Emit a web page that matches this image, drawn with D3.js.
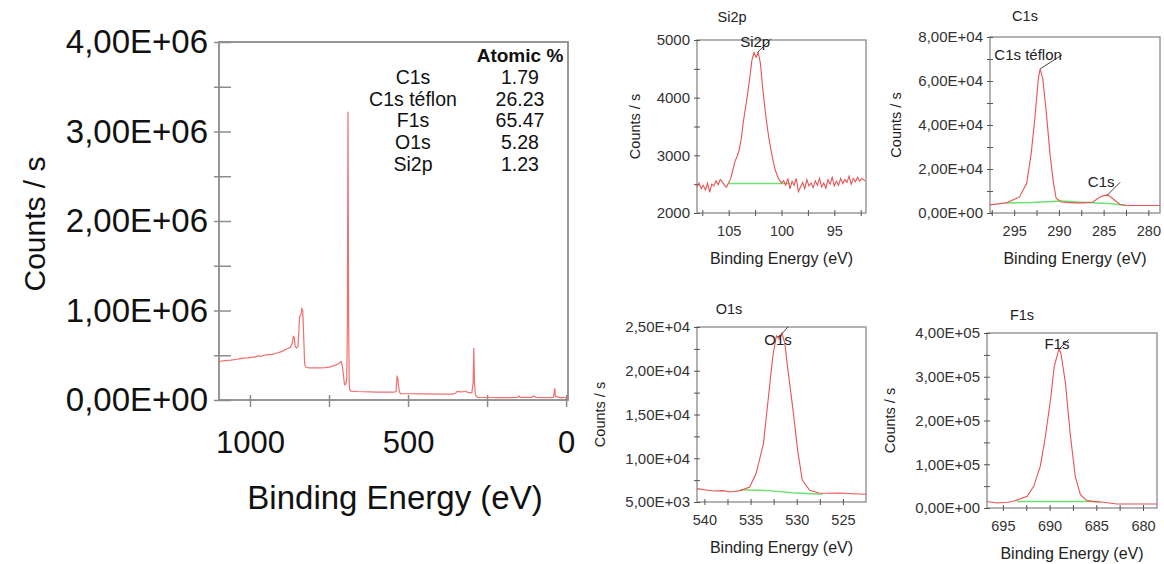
<!DOCTYPE html>
<html>
<head>
<meta charset="utf-8">
<script src="https://cdn.jsdelivr.net/npm/d3@7"></script>
<style>
  body { margin: 0; background: #fff; }
  svg { display: block; font-family: "Liberation Sans", Arial, sans-serif; }
</style>
</head>
<body>
<div id="chart"></div>
<script>
// survey spectrum (binding energy eV, counts/s)
const surveyEnergy = [1098,1080,1060,1040,1030,1020,1005,995,985,975,965,950,930,915,900,890,880,872,866,863,860,857,853,848,843,839,836,833,830,827,824,815,800,780,760,745,730,720,712,708,705,702,700,697,694,692,690,688,686,684,680,660,640,620,600,580,560,545,538,535,532,530,527,524,500,450,400,360,350,345,335,325,318,313,305,298,294,292,290,287,284,280,250,200,155,150,145,110,105,100,95,60,40,36,34,30,25,15,10,5,0,-6];
const surveyCounts = [430000,440000,445000,455000,462000,468000,470000,478000,480000,492000,488000,505000,510000,525000,540000,560000,575000,590000,640000,710000,700000,600000,580000,600000,930000,950000,1020000,1000000,700000,400000,370000,360000,358000,360000,362000,370000,390000,405000,430000,390000,300000,200000,170000,180000,230000,800000,3220000,900000,160000,110000,100000,95000,92000,90000,88000,88000,87000,87000,95000,260000,240000,150000,90000,72000,70000,68000,66000,66000,75000,95000,90000,92000,100000,88000,80000,85000,200000,580000,200000,60000,40000,30000,28000,27000,28000,45000,30000,30000,40000,42000,30000,26000,28000,130000,40000,35000,35000,25000,30000,28000,20000,15000];

const atomicNames = ["C1s", "C1s téflon", "F1s", "O1s", "Si2p"];
const atomicValues = ["1.79", "26.23", "65.47", "5.28", "1.23"];

// high resolution regions
const si2pEnergy = [108.0,107.8,107.6,107.4,107.2,107.0,106.8,106.6,106.4,106.2,106.0,105.8,105.6,105.4,105.2,105.0,104.8,104.6,104.4,104.2,104.0,103.8,103.6,103.3,103.0,102.8,102.6,102.4,102.2,102.0,101.8,101.5,101.2,100.9,100.6,100.3,100.0,99.8,99.6,99.4,99.2,99.0,98.8,98.6,98.4,98.2,98.0,97.8,97.6,97.4,97.2,97.0,96.8,96.6,96.4,96.2,96.0,95.8,95.6,95.4,95.2,95.0,94.8,94.6,94.4,94.2,94.0,93.8,93.6,93.4,93.2,93.0,92.8,92.6,92.4,92.1];
const si2pCounts = [2450,2520,2420,2480,2400,2520,2360,2500,2470,2560,2490,2580,2540,2480,2450,2530,2600,2750,2900,2980,3100,3300,3600,3950,4350,4650,4780,4700,4780,4600,4200,3700,3300,3000,2750,2600,2520,2560,2480,2600,2420,2550,2480,2600,2370,2450,2530,2420,2580,2470,2520,2440,2560,2480,2600,2450,2520,2430,2580,2500,2620,2470,2550,2480,2600,2510,2580,2530,2640,2500,2600,2540,2620,2550,2600,2560];
const si2pBgEnergy = [105.0, 99.2];
const si2pBgCounts = [2510, 2510];

const c1sEnergy = [297.7,297.5,295.9,294.4,293.6,293.1,292.7,292.3,292.1,291.8,291.4,291.0,290.6,290.3,289.7,288.4,287.3,286.2,285.4,284.9,284.5,284.0,283.2,282.5,280.5,278.7];
const c1sCounts = [3700,3800,4600,7300,13500,27000,42500,61000,65500,61000,45500,27000,13500,6600,5000,4600,4600,5000,7300,8000,8100,6600,4000,3400,3400,3400];
const c1sBgEnergy = [295.9, 293.0, 289.7, 287.5, 285.8, 284.3, 282.5];
const c1sBgCounts = [4600, 4800, 5400, 4900, 4600, 4300, 3400];

const o1sEnergy = [540.8,540.0,539.0,538.0,537.2,536.1,535.1,534.4,533.6,533.1,532.6,532.2,531.9,531.6,531.3,531.0,530.4,529.9,529.4,528.6,527.6,526.5,525.4,524.0,522.5];
const o1sCounts = [6530,6400,6260,6300,6150,6300,6720,8250,11700,16650,21600,24000,23600,24300,23200,20500,15500,10900,7500,6340,6030,6000,6030,5950,5880];
const o1sBgEnergy = [536.1, 533.0, 530.5, 527.2];
const o1sBgCounts = [6400, 6300, 6050, 5880];

const f1sEnergy = [696.7,695.6,694.5,693.9,692.4,691.7,691.0,690.5,689.9,689.5,689.0,688.8,688.3,687.8,687.25,686.7,686.0,685.0,684.2,682.8,680.5,678.5];
const f1sCounts = [15000,11400,13000,15000,26700,49500,95000,156000,248000,324000,363000,355000,286000,171000,72000,30500,16800,14000,13000,9100,9000,9100];
const f1sBgEnergy = [693.5, 684.6];
const f1sBgCounts = [15000, 15000];

const W = 1164, H = 564;
const svg = d3.select("#chart").append("svg").attr("width", W).attr("height", H);

// "8,00E+04" style labels
function fmtE(v) {
  if (v === 0) return "0,00E+00";
  const e = Math.floor(Math.log10(v) + 1e-9);
  const m = v / Math.pow(10, e);
  return m.toFixed(2).replace(".", ",") + "E+" + String(e).padStart(2, "0");
}
const isMultiple = (v, step) => Math.abs(v / step - Math.round(v / step)) < 1e-6;
const pts = (xs, ys) => xs.map((d, i) => [d, ys[i]]);

/* ---------- survey ---------- */
const main = {left: 219, right: 568, top: 42, bottom: 400};
const xMain = d3.scaleLinear().domain([1098, -6]).range([main.left, main.right]);
const yMain = d3.scaleLinear().domain([0, 4e6]).range([main.bottom, main.top]);

svg.append("rect")
  .attr("x", main.left).attr("y", main.top)
  .attr("width", main.right - main.left).attr("height", main.bottom - main.top)
  .attr("fill", "none").attr("stroke", "#8c8c8c").attr("stroke-width", 1.8);

const yAxisMain = svg.append("g")
  .attr("transform", `translate(${main.left},0)`)
  .call(d3.axisLeft(yMain).tickValues(d3.range(0, 4e6 + 1, 5e5))
    .tickFormat(d => isMultiple(d, 1e6) ? fmtE(d) : "").tickSize(5).tickPadding(6));
yAxisMain.select(".domain").remove();
yAxisMain.selectAll(".tick line").attr("x1", 12).attr("x2", -5).attr("stroke", "#8c8c8c").attr("stroke-width", 1.5);
yAxisMain.selectAll("text").attr("font-size", 33).attr("fill", "#111").attr("font-family", "Liberation Sans, Arial, sans-serif");

const xAxisMain = svg.append("g")
  .attr("transform", `translate(0,${main.bottom})`)
  .call(d3.axisBottom(xMain).tickValues([1000, 750, 500, 250, 0])
    .tickFormat(d => isMultiple(d, 500) ? d : "").tickSize(7).tickPadding(24));
xAxisMain.select(".domain").remove();
xAxisMain.selectAll(".tick line").attr("y1", -5).attr("stroke", "#8c8c8c").attr("stroke-width", 1.5);
xAxisMain.selectAll("text").attr("font-size", 31).attr("fill", "#111").attr("font-family", "Liberation Sans, Arial, sans-serif");

svg.append("path")
  .datum(pts(surveyEnergy, surveyCounts))
  .attr("fill", "none").attr("stroke", "#f07070").attr("stroke-width", 1.2)
  .attr("d", d3.line().x(d => xMain(d[0])).y(d => yMain(d[1])));

svg.append("text")
  .attr("transform", "translate(45,224) rotate(-90)")
  .attr("text-anchor", "middle").attr("font-size", 30).attr("fill", "#111")
  .text("Counts / s");
svg.append("text")
  .attr("x", 395).attr("y", 509)
  .attr("text-anchor", "middle").attr("font-size", 33).attr("fill", "#111")
  .text("Binding Energy (eV)");

// atomic % table
svg.append("text").attr("x", 520).attr("y", 62).attr("text-anchor", "middle")
  .attr("font-size", 19).attr("font-weight", "bold").attr("fill", "#111").text("Atomic %");
atomicNames.forEach((n, i) => {
  const yy = 84 + i * 21.7;
  svg.append("text").attr("x", 413).attr("y", yy).attr("text-anchor", "middle")
    .attr("font-size", 19.5).attr("fill", "#111").text(n);
  svg.append("text").attr("x", 520).attr("y", yy).attr("text-anchor", "middle")
    .attr("font-size", 19.5).attr("fill", "#111").text(atomicValues[i]);
});

/* ---------- small panels ---------- */
function drawPanel(p) {
  const x = d3.scaleLinear().domain(p.xDomain).range([p.left, p.right]);
  const y = d3.scaleLinear().domain(p.yDomain).range([p.bottom, p.top]);
  const g = svg.append("g");

  g.append("rect")
    .attr("x", p.left).attr("y", p.top)
    .attr("width", p.right - p.left).attr("height", p.bottom - p.top)
    .attr("fill", "none").attr("stroke", "#8a8a8a").attr("stroke-width", 1.3);

  const ya = g.append("g").attr("transform", `translate(${p.left},0)`)
    .call(d3.axisLeft(y).tickValues(p.yTicks)
      .tickFormat(d => isMultiple(d, p.yLabelStep) ? p.yFormat(d) : "").tickSize(3).tickPadding(4));
  ya.select(".domain").remove();
  ya.selectAll(".tick line").attr("x1", 3).attr("stroke", "#555");
  ya.selectAll("text").attr("font-size", 15).attr("fill", "#333").attr("font-family", "Liberation Sans, Arial, sans-serif");

  const xa = g.append("g").attr("transform", `translate(0,${p.bottom})`)
    .call(d3.axisBottom(x).tickValues(p.xTicks)
      .tickFormat(d => isMultiple(d, 5) ? d : "").tickSize(3).tickPadding(10));
  xa.select(".domain").remove();
  xa.selectAll(".tick line").attr("y1", -3).attr("stroke", "#555");
  xa.selectAll("text").attr("font-size", 14.5).attr("fill", "#333").attr("font-family", "Liberation Sans, Arial, sans-serif");

  const line = d3.line().x(d => x(d[0])).y(d => y(d[1]));
  g.append("path").datum(pts(p.bgE, p.bgC))
    .attr("fill", "none").attr("stroke", "#6fe06f").attr("stroke-width", 1.5).attr("d", line);
  g.append("path").datum(pts(p.energy, p.counts))
    .attr("fill", "none").attr("stroke", "#e65454").attr("stroke-width", 1.1).attr("d", line);

  g.append("text").attr("x", p.titleX).attr("y", p.titleY).attr("text-anchor", "middle")
    .attr("font-size", 14.5).attr("fill", "#222").text(p.title);
  g.append("text").attr("transform", `translate(${p.ylabX},${(p.top + p.bottom) / 2}) rotate(-90)`)
    .attr("text-anchor", "middle").attr("font-size", 14.5).attr("fill", "#222").text("Counts / s");
  g.append("text").attr("x", (p.left + p.right) / 2).attr("y", p.bottom + 51)
    .attr("text-anchor", "middle").attr("font-size", 16).attr("fill", "#222").text("Binding Energy (eV)");

  // peak labels with leader lines
  p.notes.forEach(n => {
    const px = x(n.e), py = y(n.c);
    g.append("line").attr("x1", px).attr("y1", py).attr("x2", px + n.dx).attr("y2", py + n.dy)
      .attr("stroke", "#333").attr("stroke-width", 0.9);
    g.append("text").attr("x", px + n.tx).attr("y", py + n.ty).attr("text-anchor", "middle")
      .attr("font-size", 15).attr("fill", "#222").text(n.text);
  });
}

drawPanel({
  title: "Si2p", titleX: 732, titleY: 22, ylabX: 640,
  left: 697, right: 866, top: 40, bottom: 213,
  xDomain: [108, 92], yDomain: [2000, 5000],
  xTicks: d3.range(107.5, 92, -2.5), yTicks: d3.range(2000, 5001, 500), yLabelStep: 1000,
  yFormat: d => d,
  energy: si2pEnergy, counts: si2pCounts, bgE: si2pBgEnergy, bgC: si2pBgCounts,
  notes: [{text: "Si2p", e: 102.3, c: 4780, dx: 14, dy: -14, tx: -2, ty: -6}]
});
drawPanel({
  title: "C1s", titleX: 1025, titleY: 21, ylabX: 901,
  left: 990, right: 1160, top: 37, bottom: 213,
  xDomain: [297.7, 278.7], yDomain: [0, 8e4],
  xTicks: d3.range(297.5, 279, -2.5), yTicks: d3.range(0, 8e4 + 1, 1e4), yLabelStep: 2e4,
  yFormat: fmtE,
  energy: c1sEnergy, counts: c1sCounts, bgE: c1sBgEnergy, bgC: c1sBgCounts,
  notes: [
    {text: "C1s téflon", e: 292.1, c: 65500, dx: 22, dy: -14, tx: -12, ty: -9},
    {text: "C1s", e: 284.6, c: 8100, dx: 13, dy: -13, tx: -6, ty: -8}
  ]
});
drawPanel({
  title: "O1s", titleX: 729, titleY: 314, ylabX: 605,
  left: 697, right: 866, top: 327, bottom: 502,
  xDomain: [540.8, 522.5], yDomain: [5000, 25000],
  xTicks: d3.range(540, 522.5, -2.5), yTicks: d3.range(5000, 25001, 2500), yLabelStep: 5000,
  yFormat: fmtE,
  energy: o1sEnergy, counts: o1sCounts, bgE: o1sBgEnergy, bgC: o1sBgCounts,
  notes: [{text: "O1s", e: 531.8, c: 24000, dx: 8, dy: -9, tx: -2, ty: 9}]
});
drawPanel({
  title: "F1s", titleX: 1022, titleY: 320, ylabX: 895,
  left: 987, right: 1157, top: 333, bottom: 508,
  xDomain: [696.7, 678.5], yDomain: [0, 4e5],
  xTicks: d3.range(695, 678.5, -2.5), yTicks: d3.range(0, 4e5 + 1, 5e4), yLabelStep: 1e5,
  yFormat: fmtE,
  energy: f1sEnergy, counts: f1sCounts, bgE: f1sBgEnergy, bgC: f1sBgCounts,
  notes: [{text: "F1s", e: 689.0, c: 363000, dx: 10, dy: -10, tx: -2, ty: 0}]
});
</script>
</body>
</html>
